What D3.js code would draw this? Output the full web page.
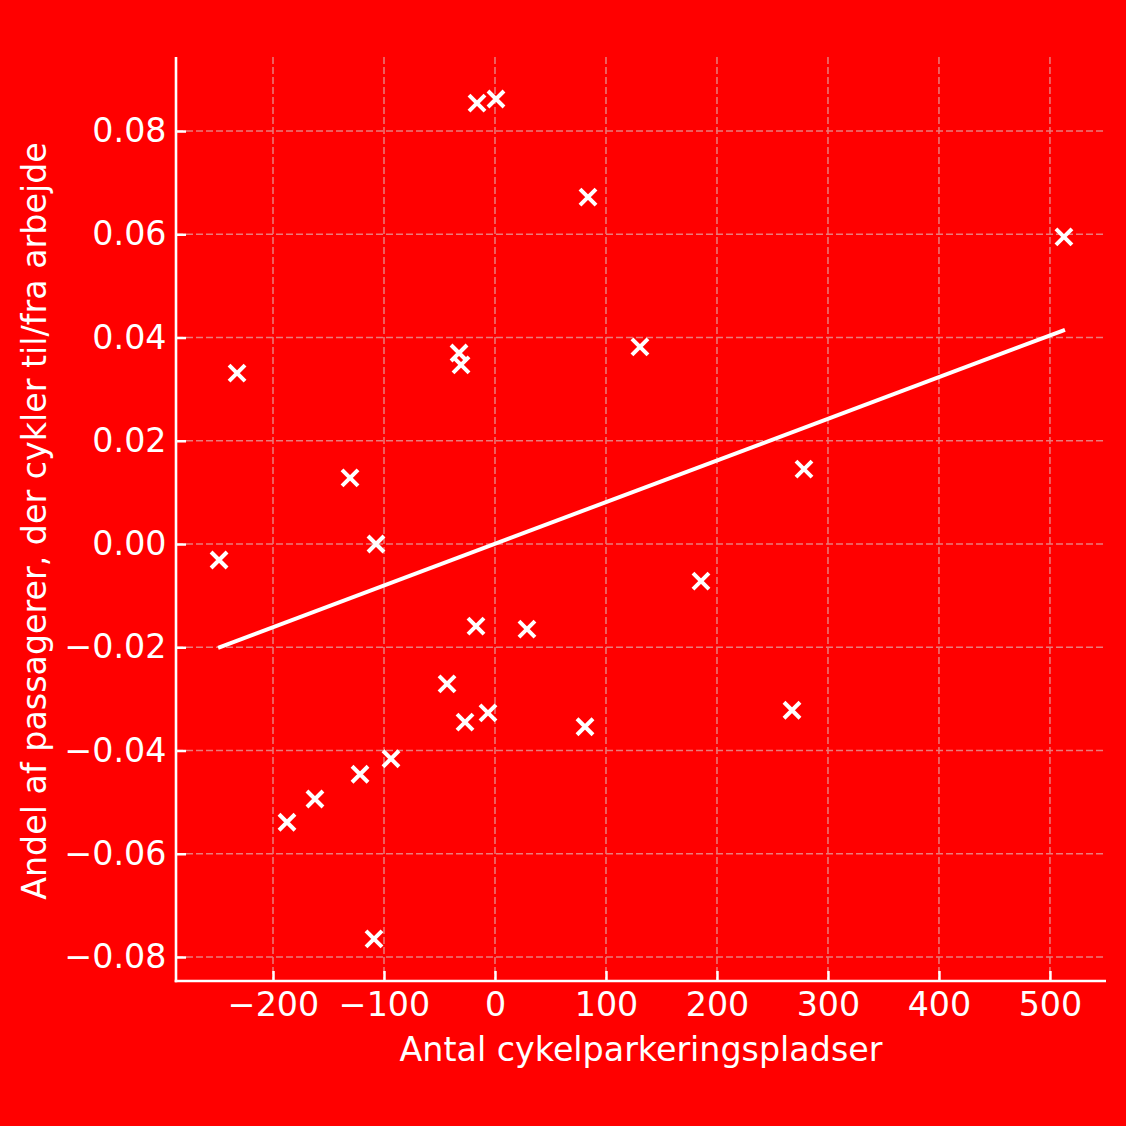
<!DOCTYPE html>
<html><head><meta charset="utf-8">
<script src="https://cdn.jsdelivr.net/npm/d3@7"></script>
<style>html,body{margin:0;padding:0;background:#ff0000;}</style>
</head><body>
<svg id="c" width="1126" height="1126"></svg>
<script>
const xValues = [-248.6,-232.4,-187.4,-162.2,-130.6,-121.6,-109,-107.2,-93.7,-43.2,-32.4,-30.6,-27,-17.1,-16.2,-6.3,0.9,28.8,81.1,83.8,130.6,185.6,267.6,278.4,512.6];
const yValues = [-0.0031,0.0331,-0.0539,-0.0494,0.0128,-0.0446,-0.0765,0.0000,-0.0416,-0.0271,0.0370,0.0347,-0.0345,-0.0159,0.0854,-0.0327,0.0862,-0.0165,-0.0354,0.0672,0.0382,-0.0072,-0.0322,0.0145,0.0595];
const fitX = [-249.5, 513.5];
const fitY = [-0.0201, 0.0415];
const xTicks = [-200,-100,0,100,200,300,400,500];
const yTicks = [-0.08,-0.06,-0.04,-0.02,0.00,0.02,0.04,0.06,0.08];
const xLabel = "Antal cykelparkeringspladser";
const yLabel = "Andel af passagerer, der cykler til/fra arbejde";

const L=176,R=1106,T=57,B=981;
const x=d3.scaleLinear().domain([-287.4,550.5]).range([L,R]);
const y=d3.scaleLinear().domain([-0.08465,0.09434]).range([B,T]);
const svg=d3.select("#c");
svg.append("rect").attr("width",1126).attr("height",1126).attr("fill","#ff0000");
const font="DejaVu Sans";
const fs=33.3;
const gridColor="#e97c7c";
const g=svg.append("g");
// grid
g.selectAll(".gx").data(xTicks).join("line").attr("x1",d=>x(d)).attr("x2",d=>x(d)).attr("y1",T).attr("y2",B)
 .attr("stroke",gridColor).attr("stroke-width",1.5).attr("stroke-dasharray","7,3");
g.selectAll(".gy").data(yTicks).join("line").attr("y1",d=>y(d)).attr("y2",d=>y(d)).attr("x1",L).attr("x2",R)
 .attr("stroke",gridColor).attr("stroke-width",1.5).attr("stroke-dasharray","7,3");
// axes
const fmtY=d=>(d<0?"\u2212":"")+Math.abs(d).toFixed(2);
const fmtX=d=>(d<0?"\u2212":"")+Math.abs(d);
const xa=svg.append("g").attr("transform",`translate(0,${B})`).call(d3.axisBottom(x).tickValues(xTicks).tickSize(-10).tickPadding(11).tickFormat(fmtX));
const ya=svg.append("g").attr("transform",`translate(${L},0)`).call(d3.axisLeft(y).tickValues(yTicks).tickSize(-10).tickPadding(9.5).tickFormat(fmtY));
[xa,ya].forEach(a=>{
  a.select(".domain").remove();
  a.selectAll(".tick line").attr("stroke","#fff").attr("stroke-width",2.5);
  a.selectAll(".tick text").attr("fill","#fff").attr("font-family",font).attr("font-size",fs);
});
// spines
svg.append("line").attr("x1",L).attr("x2",L).attr("y1",T).attr("y2",B+1.3).attr("stroke","#fff").attr("stroke-width",2.6);
svg.append("line").attr("x1",L-1.3).attr("x2",R).attr("y1",B).attr("y2",B).attr("stroke","#fff").attr("stroke-width",2.6);
// fit line
svg.append("path").datum(fitX.map((v,i)=>[v,fitY[i]]))
 .attr("d",d3.line().x(d=>x(d[0])).y(d=>y(d[1]))).attr("stroke","#fff").attr("stroke-width",4).attr("fill","none");
// markers
const s=8;
const pts=svg.append("g").selectAll("g").data(xValues.map((v,i)=>[v,yValues[i]])).join("g")
 .attr("transform",d=>`translate(${x(d[0])},${y(d[1])})`);
pts.append("path").attr("d",`M${-s},${-s}L${s},${s}M${-s},${s}L${s},${-s}`).attr("stroke","#fff").attr("stroke-width",4).attr("fill","none");
// labels
svg.append("text").attr("x",(L+R)/2).attr("y",1061).attr("text-anchor","middle").attr("fill","#fff")
 .attr("font-family",font).attr("font-size",fs).text(xLabel);
svg.append("text").attr("transform",`translate(46,521) rotate(-90)`).attr("text-anchor","middle").attr("fill","#fff")
 .attr("font-family",font).attr("font-size",fs).text(yLabel);
</script>
</body></html>
